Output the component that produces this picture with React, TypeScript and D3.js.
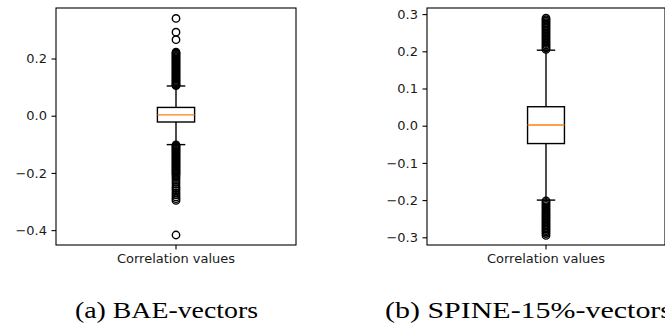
import React, { useEffect, useRef } from "react";
import * as d3 from "d3";

const categories = ["Correlation values"];
const captions = ["(a) BAE-vectors", "(b) SPINE-15%-vectors"];

// [q1, median, q3]
const baeBox = [-0.022, 0.003, 0.029];
const baeWhiskers = [-0.101, 0.104];
const baeOutliers = [
  0.34, 0.292, 0.266, 0.222, 0.219, 0.215, 0.211, 0.207, 0.203, 0.199, 0.195, 0.191,
  0.187, 0.183, 0.179, 0.175, 0.171, 0.167, 0.163, 0.159, 0.155, 0.151, 0.147, 0.143,
  0.139, 0.135, 0.131, 0.127, 0.123, 0.119, 0.115, 0.111, 0.108, 0.105,
  -0.102, -0.105, -0.109, -0.113, -0.117, -0.121, -0.125, -0.129, -0.133, -0.137,
  -0.141, -0.145, -0.149, -0.153, -0.157, -0.161, -0.165, -0.169, -0.173, -0.177,
  -0.181, -0.185, -0.189, -0.193, -0.197, -0.201, -0.205, -0.21, -0.216, -0.223,
  -0.231, -0.239, -0.248, -0.255, -0.262, -0.27, -0.277, -0.284, -0.29, -0.296, -0.417,
];
const baeTicks = [-0.4, -0.2, 0.0, 0.2];
const baeDomain = [-0.452, 0.3766];

const spineBox = [-0.048, 0.002, 0.051];
const spineWhiskers = [-0.2, 0.203];
const spineOutliers = [
  0.205, 0.209, 0.213, 0.217, 0.221, 0.225, 0.229, 0.233, 0.237, 0.241, 0.245, 0.249,
  0.253, 0.257, 0.261, 0.265, 0.269, 0.273, 0.277, 0.281, 0.285, 0.289,
  -0.202, -0.206, -0.21, -0.214, -0.218, -0.222, -0.226, -0.23, -0.234, -0.238, -0.242,
  -0.246, -0.25, -0.254, -0.258, -0.262, -0.266, -0.27, -0.274, -0.278, -0.282, -0.286,
  -0.29, -0.295,
];
const spineTicks = [-0.3, -0.2, -0.1, 0.0, 0.1, 0.2, 0.3];
const spineDomain = [-0.3207, 0.3164];

const W = 665;
const H = 334;

export default function App() {
  const ref = useRef<SVGSVGElement>(null);

  useEffect(() => {
    const svg = d3.select(ref.current);
    svg.selectAll("*").remove();
    svg.append("rect").attr("width", W).attr("height", H).attr("fill", "white");

    const panels = [
      { left: 56, right: 296, box: baeBox, wh: baeWhiskers, out: baeOutliers, ticks: baeTicks, domain: baeDomain, cap: captions[0], capX: 75, capLen: 183 },
      { left: 427, right: 665, box: spineBox, wh: spineWhiskers, out: spineOutliers, ticks: spineTicks, domain: spineDomain, cap: captions[1], capX: 385, capLen: 287 },
    ];
    const top = 8;
    const bottom = 245;
    const font = "DejaVu Sans, sans-serif";
    const fmt = d3.format(".1f");

    panels.forEach((p) => {
      const g = svg.append("g");
      const y = d3.scaleLinear().domain(p.domain).range([bottom, top]);
      const x = d3.scaleBand().domain(categories).range([p.left, p.right]).paddingInner(0).paddingOuter(0);
      const cx = (x(categories[0]) as number) + x.bandwidth() / 2;
      const boxW = (p.right - p.left) * 0.155;
      const capW = boxW / 2;

      // whiskers
      g.append("line").attr("x1", cx).attr("x2", cx).attr("y1", y(p.box[2])).attr("y2", y(p.wh[1])).attr("stroke", "black").attr("stroke-width", 1.4);
      g.append("line").attr("x1", cx).attr("x2", cx).attr("y1", y(p.box[0])).attr("y2", y(p.wh[0])).attr("stroke", "black").attr("stroke-width", 1.4);
      p.wh.forEach((v) => {
        g.append("line").attr("x1", cx - capW / 2).attr("x2", cx + capW / 2).attr("y1", y(v)).attr("y2", y(v)).attr("stroke", "black").attr("stroke-width", 1.4);
      });
      // box
      g.append("rect").attr("x", cx - boxW / 2).attr("width", boxW).attr("y", y(p.box[2])).attr("height", y(p.box[0]) - y(p.box[2])).attr("fill", "none").attr("stroke", "black").attr("stroke-width", 1.4);
      g.append("line").attr("x1", cx - boxW / 2).attr("x2", cx + boxW / 2).attr("y1", y(p.box[1])).attr("y2", y(p.box[1])).attr("stroke", "#ff7f0e").attr("stroke-width", 1.4);
      // outliers
      g.selectAll("circle.o").data(p.out).enter().append("circle")
        .attr("cx", cx).attr("cy", (d) => y(d)).attr("r", 3.7)
        .attr("fill", "none").attr("stroke", "black").attr("stroke-width", 1.4);

      // spines
      g.append("rect").attr("x", p.left).attr("y", top).attr("width", p.right - p.left).attr("height", bottom - top)
        .attr("fill", "none").attr("stroke", "black").attr("stroke-width", 1.1);

      // y axis
      const ya = g.append("g").attr("transform", `translate(${p.left},0)`)
        .call(d3.axisLeft(y).tickValues(p.ticks).tickSize(4.5).tickPadding(4.5).tickFormat((d) => fmt(d as number).replace("-", "\u2212")));
      ya.select(".domain").remove();
      ya.selectAll("text").attr("font-family", font).attr("font-size", 13).attr("fill", "#1a1a1a");
      ya.selectAll("line").attr("stroke", "black").attr("stroke-width", 1.1);

      // x axis
      const xa = g.append("g").attr("transform", `translate(0,${bottom})`)
        .call(d3.axisBottom(x).tickSize(4.5).tickPadding(4.5));
      xa.select(".domain").remove();
      xa.selectAll("text").attr("font-family", font).attr("font-size", 13).attr("fill", "#1a1a1a");
      xa.selectAll("line").attr("stroke", "black").attr("stroke-width", 1.1);

      svg.append("text").attr("x", p.capX).attr("y", 318).attr("text-anchor", "start")
        .attr("font-family", "Liberation Serif, serif").attr("font-size", 24).attr("fill", "black")
        .attr("textLength", p.capLen).attr("lengthAdjust", "spacingAndGlyphs").text(p.cap);
    });
  }, []);

  return (
    <svg ref={ref} width={W} height={H} style={{ position: "absolute", left: 0, top: 0 }} />
  );
}
